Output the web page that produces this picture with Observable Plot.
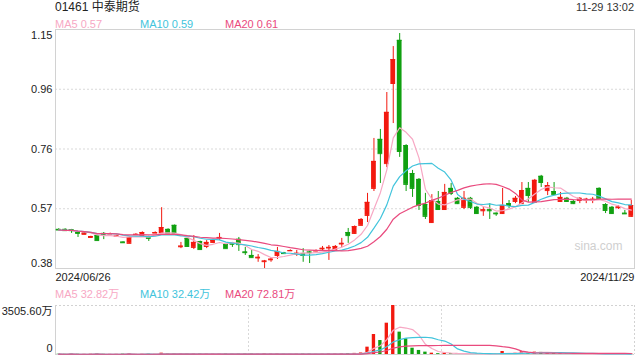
<!DOCTYPE html>
<html><head><meta charset="utf-8">
<script src="https://cdn.jsdelivr.net/npm/d3@7"></script>
<script src="https://cdn.jsdelivr.net/npm/@observablehq/plot@0.6"></script>
<style>
body{margin:0;background:#fff;}
#c{position:relative;width:640px;height:360px;font-family:"Liberation Sans","Noto Sans CJK SC",Arial,sans-serif;overflow:hidden;background:#fff;}
.t{position:absolute;white-space:nowrap;line-height:1;}
#c svg{position:absolute;left:0;}
</style></head><body><div id="c"></div>
<script>
const title = "01461 中泰期货";
const stamp = "11-29 13:02";
const dateLabels = ["2024/06/26", "2024/11/29"];
const watermark = "sina.com";

const open = [.506,.506,.505,.496,.490,.480,.486,.493,.492,.485,.465,.461,.490,.486,.483,.494,.496,.506,.519,.450,
.477,.448,.467,.451,.464,.478,.457,.462,.474,.433,.422,.414,.402,.408,.422,.430,.437,.427,.428,.433,
.437,.443,.446,.438,.459,.496,.493,.519,.551,.638,.796,.718,.976,1.115,.776,.686,.667,.586,.528,.596,
.570,.638,.606,.577,.606,.577,.566,.569,.558,.557,.589,.596,.589,.638,.593,.677,.631,.628,.596,.606,
.596,.599,.601,.601,.638,.586,.577,.576,.558,.548];
const high = [.508,.508,.506,.497,.495,.484,.487,.496,.494,.487,.466,.481,.492,.498,.484,.498,.576,.508,.520,.464,
.478,.486,.468,.470,.474,.493,.458,.464,.480,.448,.438,.425,.406,.415,.448,.432,.440,.438,.444,.435,
.440,.451,.454,.454,.477,.509,.517,.541,.622,.799,.828,.947,1.095,1.137,.779,.696,.670,.622,.618,.628,
.651,.654,.609,.628,.609,.580,.577,.589,.559,.638,.599,.612,.657,.657,.667,.680,.657,.657,.625,.609,
.599,.608,.606,.609,.640,.589,.580,.583,.567,.599];
const low = [.502,.500,.493,.480,.489,.478,.469,.473,.490,.483,.462,.460,.488,.485,.467,.493,.494,.492,.492,.444,
.449,.441,.440,.444,.460,.470,.443,.448,.435,.422,.414,.400,.380,.400,.409,.425,.436,.419,.400,.396,
.434,.438,.406,.436,.448,.461,.490,.517,.528,.628,.654,.705,.847,.738,.628,.609,.567,.538,.525,.567,
.567,.615,.586,.570,.570,.554,.548,.538,.548,.554,.573,.589,.589,.593,.590,.641,.615,.615,.593,.593,
.586,.589,.589,.589,.604,.557,.554,.570,.554,.545];
const close = [.504,.502,.502,.493,.494,.483,.470,.490,.492,.485,.463,.480,.490,.496,.477,.496,.512,.493,.493,.452,
.451,.464,.441,.464,.470,.480,.444,.458,.457,.431,.415,.416,.404,.410,.435,.428,.438,.429,.422,.431,
.437,.445,.448,.451,.461,.486,.515,.538,.593,.725,.750,.883,1.053,.757,.651,.638,.583,.548,.599,.570,
.625,.622,.589,.606,.577,.557,.569,.566,.556,.583,.583,.606,.631,.615,.664,.657,.647,.618,.609,.596,
.589,.606,.603,.603,.606,.567,.557,.578,.556,.583];
// 成交量（万）
const volume = [20,15,25,18,12,22,30,15,10,12,28,35,10,18,25,12,95,30,40,35,
30,28,32,25,20,22,30,18,25,30,35,20,40,25,30,15,10,18,25,22,
10,20,30,28,40,60,80,110,525,1430,1000,2240,3505.6,1600,1120,450,290,170,95,60,
95,70,50,60,50,40,30,40,30,215,70,90,200,140,170,150,100,80,70,62,
30,35,25,30,40,40,35,20,25,44];

const yTicks = [1.15, 0.9575, 0.765, 0.5725, 0.38];
const yTickLabels = ["1.15", "0.96", "0.76", "0.57", "0.38"];
const volMax = 3505.6;
const volTickLabels = ["3505.60万", "0"];
const maNames = ["MA5", "MA10", "MA20"];
const maPeriods = [5, 10, 20];
const priceMALabels = ["0.57", "0.59", "0.61"];
const volMALabels = ["32.82万", "32.42万", "72.81万"];

const RED = "#f2190f", GREEN = "#10a010";
const maColors = ["#f7a8c4", "#42c4dc", "#e94a7e"];
const FONT = "Liberation Sans, Noto Sans CJK SC, Arial, sans-serif";

const N = close.length;
const candles = d3.range(N).map(i => ({i, open: open[i], high: high[i], low: low[i], close: close[i], volume: volume[i]}));
const up = candles.filter(d => d.close >= d.open);
const down = candles.filter(d => d.close < d.open);
const xDomain = [-0.5, N - 0.5];
const vGrid = [xDomain[0] + N / 3, xDomain[0] + 2 * N / 3];
const BW = 0.37, VW = 0.26;

function candleMarks(set, color) {
  return [
    Plot.ruleX(set, {x: "i", y1: "low", y2: "high", stroke: color, strokeWidth: 1}),
    Plot.rect(set, {x1: d => d.i - BW, x2: d => d.i + BW, y1: "open", y2: "close", fill: color}),
    Plot.ruleY(set, {y: "close", x1: d => d.i - BW, x2: d => d.i + BW, stroke: color}),
    Plot.ruleY(set, {y: "open", x1: d => d.i - BW, x2: d => d.i + BW, stroke: color})
  ];
}
const maLines = (field) => maPeriods.map((k, j) =>
  Plot.line(candles, Plot.windowY({k, anchor: "end", reduce: "mean"}, {x: "i", y: field, stroke: maColors[j], strokeWidth: 1.2})));

const txt = {fill: "#222", fontSize: 11, textAnchor: "end", frameAnchor: "left", dx: -3};

const main = Plot.plot({
  width: 640, height: 285, marginTop: 29, marginBottom: 17, marginLeft: 55, marginRight: 6,
  x: {domain: xDomain, axis: null},
  y: {domain: [yTicks[yTicks.length - 1], yTicks[0]], axis: null},
  style: {fontFamily: FONT, fontSize: "11px", background: "transparent", overflow: "visible"},
  marks: [
    Plot.ruleY(yTicks.slice(1, -1), {stroke: "#d9d9d9", strokeDasharray: "2,2"}),
    Plot.frame({stroke: "#d2d2d2"}),
    Plot.text([watermark], {text: d => d, frameAnchor: "bottom-right", textAnchor: "end", dx: -12, dy: -19, fill: "#cfcfcf", fontSize: 12}),
    ...candleMarks(down, GREEN),
    ...candleMarks(up, RED),
    ...maLines("close"),
    Plot.text([yTicks[0]], {...txt, y: d => d, text: () => yTickLabels[0], dy: 6}),
    Plot.text(yTicks.slice(1, -1), {...txt, y: d => d, text: (d, i) => yTickLabels[i + 1]}),
    Plot.text([yTicks[yTicks.length - 1]], {...txt, y: d => d, text: () => yTickLabels[yTickLabels.length - 1], dy: -5}),
    Plot.text([dateLabels[0]], {text: d => d, frameAnchor: "bottom-left", textAnchor: "start", lineAnchor: "top", dy: 5, fill: "#222", fontSize: 11}),
    Plot.text([dateLabels[1]], {text: d => d, frameAnchor: "bottom-right", textAnchor: "end", lineAnchor: "top", dy: 5, fill: "#222", fontSize: 11})
  ]
});

const vol = Plot.plot({
  width: 640, height: 60, marginTop: 5, marginBottom: 6, marginLeft: 55, marginRight: 6,
  x: {domain: xDomain, axis: null},
  y: {domain: [0, volMax], axis: null},
  style: {fontFamily: FONT, fontSize: "11px", background: "transparent", overflow: "visible"},
  marks: [
    Plot.ruleX(vGrid, {stroke: "#d9d9d9", strokeDasharray: "2,2"}),
    Plot.ruleY([volMax], {stroke: "#d2d2d2", strokeDasharray: "2,2"}),
    Plot.ruleX([xDomain[1]], {stroke: "#d2d2d2", strokeDasharray: "2,2"}),
    Plot.ruleX([xDomain[0]], {stroke: "#d2d2d2"}),
    Plot.ruleY([0], {stroke: "#d2d2d2"}),
    Plot.rect(down, {x1: d => d.i - VW, x2: d => d.i + VW, y1: 0, y2: "volume", fill: GREEN}),
    Plot.rect(up, {x1: d => d.i - VW, x2: d => d.i + VW, y1: 0, y2: "volume", fill: RED}),
    ...maLines("volume"),
    Plot.text([volMax], {...txt, y: d => d, text: () => volTickLabels[0], dy: 6}),
    Plot.text([0], {...txt, y: d => d, text: () => volTickLabels[1], dy: -6})
  ]
});

const c = document.getElementById("c");
main.style.top = "0px";
vol.style.top = "300px";
c.appendChild(main);
c.appendChild(vol);

function addText(s, css) {
  const el = document.createElement("div");
  el.className = "t";
  el.textContent = s;
  Object.assign(el.style, css);
  c.appendChild(el);
}
addText(title, {left: "55px", top: "1px", fontSize: "12px", color: "#222"});
addText(stamp, {right: "6px", top: "2px", fontSize: "11px", color: "#333"});
const legendX = [55, 140, 225];
maNames.forEach((n, j) => {
  addText(n + " " + priceMALabels[j], {left: legendX[j] + "px", top: "19px", fontSize: "11px", color: maColors[j]});
  addText(n + " " + volMALabels[j], {left: legendX[j] + "px", top: "289px", fontSize: "11px", color: maColors[j]});
});
</script></body></html>
